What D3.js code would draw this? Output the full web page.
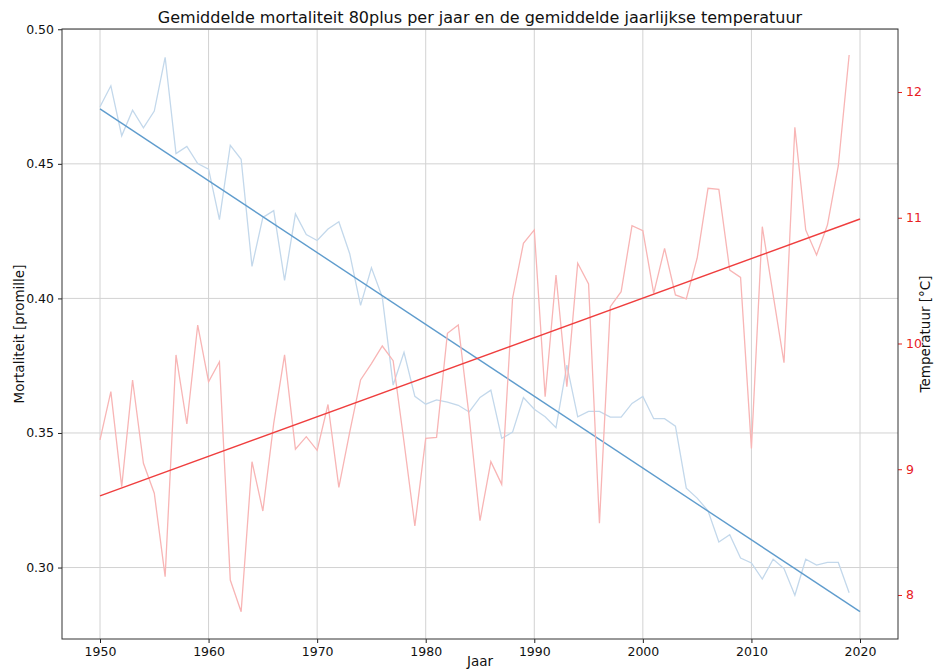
<!DOCTYPE html>
<html>
<head>
<meta charset="utf-8">
<script src="https://cdn.jsdelivr.net/npm/d3@7"></script>
<style>
  html, body { margin: 0; padding: 0; background: #fff; }
  svg { display: block; font-family: "DejaVu Sans", sans-serif; }
</style>
</head>
<body>
<svg id="chart" width="934" height="670"></svg>
<script>
// ---- data ----
const years = d3.range(1950, 2020);
const mortality = [
  0.4712, 0.4790, 0.4604, 0.4699, 0.4634, 0.4696, 0.4896, 0.4538, 0.4565, 0.4501,
  0.4480, 0.4293, 0.4569, 0.4517, 0.4119, 0.4301, 0.4326, 0.4067, 0.4314, 0.4237,
  0.4215, 0.4258, 0.4285, 0.4166, 0.3974, 0.4114, 0.4005, 0.3678, 0.3800, 0.3636,
  0.3607, 0.3623, 0.3615, 0.3603, 0.3578, 0.3632, 0.3659, 0.3480, 0.3503, 0.3632,
  0.3588, 0.3560, 0.3520, 0.3752, 0.3560, 0.3580, 0.3580, 0.3559, 0.3559, 0.3610,
  0.3636, 0.3553, 0.3553, 0.3525, 0.3295, 0.3258, 0.3211, 0.3095, 0.3122, 0.3035,
  0.3017, 0.2957, 0.3031, 0.2996, 0.2897, 0.3031, 0.3009, 0.3019, 0.3019, 0.2906
];
const temperature = [
  9.233, 9.617, 8.861, 9.710, 9.047, 8.809, 8.146, 9.909, 9.360, 10.147,
  9.696, 9.855, 8.119, 7.867, 9.060, 8.668, 9.365, 9.909, 9.159, 9.259,
  9.150, 9.515, 8.856, 9.296, 9.710, 9.840, 9.980, 9.863, 9.217, 8.549,
  9.246, 9.254, 10.081, 10.147, 9.420, 8.591, 9.060, 8.880, 10.360, 10.797,
  10.903, 9.577, 10.545, 9.657, 10.638, 10.473, 8.570, 10.293, 10.412, 10.937,
  10.897, 10.399, 10.757, 10.386, 10.354, 10.678, 11.234, 11.226, 10.584, 10.526,
  9.166, 10.929, 10.386, 9.847, 11.719, 10.903, 10.704, 10.942, 11.412, 12.294
];
const trendYears = [1950, 2020];
const mortalityTrend = [0.4704, 0.2836];
const temperatureTrend = [8.788, 10.99];
const xTicks = [1950, 1960, 1970, 1980, 1990, 2000, 2010, 2020];
const yLeftTicks = [0.30, 0.35, 0.40, 0.45, 0.50];
const yRightTicks = [8, 9, 10, 11, 12];
const title = "Gemiddelde mortaliteit 80plus per jaar en de gemiddelde jaarlijkse temperatuur";
const xLabel = "Jaar";
const yLeftLabel = "Mortaliteit [promille]";
const yRightLabel = "Temperatuur [°C]";

// ---- layout ----
const W = 934, H = 670;
const m = { left: 62, right: 36, top: 29, bottom: 31 };
const pw = W - m.left - m.right, ph = H - m.top - m.bottom;

const svg = d3.select("#chart");
const g = svg.append("g").attr("transform", `translate(${m.left},${m.top})`);

const x = d3.scaleLinear().domain([1946.5, 2023.5]).range([0, pw]);
const yL = d3.scaleLinear().domain([0.27345, 0.50010]).range([ph, 0]);
const yR = d3.scaleLinear().domain([7.650, 12.501]).range([ph, 0]);

// grid
const grid = g.append("g");
grid.selectAll("line.v").data(xTicks).join("line")
  .attr("x1", d => x(d)).attr("x2", d => x(d))
  .attr("y1", 0).attr("y2", ph)
  .attr("stroke", "#d2d2d2").attr("stroke-width", 1);
grid.selectAll("line.h").data(yLeftTicks).join("line")
  .attr("x1", 0).attr("x2", pw)
  .attr("y1", d => yL(d)).attr("y2", d => yL(d))
  .attr("stroke", "#d2d2d2").attr("stroke-width", 1);

// series
const mortLine = d3.line().x((d, i) => x(years[i])).y(d => yL(d));
const tempLine = d3.line().x((d, i) => x(years[i])).y(d => yR(d));
const mortTrendLine = d3.line().x((d, i) => x(trendYears[i])).y(d => yL(d));
const tempTrendLine = d3.line().x((d, i) => x(trendYears[i])).y(d => yR(d));

g.append("path").datum(mortality).attr("d", mortLine)
  .attr("fill", "none").attr("stroke", "#c3d8eb").attr("stroke-width", 1.3);
g.append("path").datum(mortalityTrend).attr("d", mortTrendLine)
  .attr("fill", "none").attr("stroke", "#5f9ccd").attr("stroke-width", 1.4);
g.append("path").datum(temperature).attr("d", tempLine)
  .attr("fill", "none").attr("stroke", "#f8b5b5").attr("stroke-width", 1.3);
g.append("path").datum(temperatureTrend).attr("d", tempTrendLine)
  .attr("fill", "none").attr("stroke", "#ef3e3e").attr("stroke-width", 1.4);

// axes
const fs = "12.5px";
const ax = g.append("g").attr("transform", `translate(0,${ph})`)
  .call(d3.axisBottom(x).tickValues(xTicks).tickFormat(d3.format("d")).tickSize(4).tickPadding(4));
const ayL = g.append("g")
  .call(d3.axisLeft(yL).tickValues(yLeftTicks).tickFormat(d3.format(".2f")).tickSize(4).tickPadding(4));
const ayR = g.append("g").attr("transform", `translate(${pw},0)`)
  .call(d3.axisRight(yR).tickValues(yRightTicks).tickFormat(d3.format("d")).tickSize(4).tickPadding(4));
[ax, ayL, ayR].forEach(a => {
  a.select(".domain").remove();
  a.selectAll("text").attr("font-family", "DejaVu Sans, sans-serif").attr("font-size", fs).attr("fill", "#111");
  a.selectAll("line").attr("stroke", "#222");
});
ayR.selectAll("text").attr("fill", "#e8201f");
ayR.selectAll("line").attr("stroke", "#e8201f");

// frame
g.append("rect").attr("x", 0).attr("y", 0).attr("width", pw).attr("height", ph)
  .attr("fill", "none").attr("stroke", "#333").attr("stroke-width", 1);

// labels
svg.append("text").attr("x", m.left + pw / 2).attr("y", 23)
  .attr("text-anchor", "middle").attr("font-size", "16px").attr("fill", "#111").text(title);
svg.append("text").attr("x", m.left + pw / 2).attr("y", 666)
  .attr("text-anchor", "middle").attr("font-size", "13.5px").attr("fill", "#111").text(xLabel);
svg.append("text").attr("transform", `translate(24,${m.top + ph / 2}) rotate(-90)`)
  .attr("text-anchor", "middle").attr("font-size", "13.5px").attr("fill", "#111").text(yLeftLabel);
svg.append("text").attr("transform", `translate(930,${m.top + ph / 2}) rotate(-90)`)
  .attr("text-anchor", "middle").attr("font-size", "13.5px").attr("fill", "#111").text(yRightLabel);
</script>
</body>
</html>
